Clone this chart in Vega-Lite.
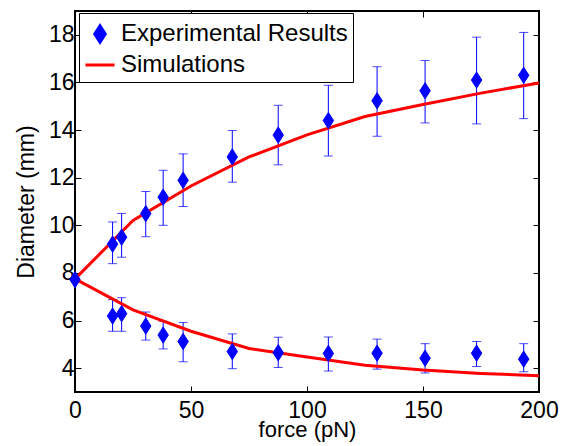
{
  "$schema": "https://vega.github.io/schema/vega-lite/v6.json",
  "width": 464,
  "height": 381,
  "autosize": "none",
  "padding": {"left": 75, "top": 11, "right": 27, "bottom": 54},
  "background": "#ffffff",
  "config": {
    "font": "Liberation Sans",
    "view": {"stroke": "#000000", "strokeWidth": 2},
    "axis": {
      "grid": false,
      "domain": false,
      "labelFlush": false,
      "labelFont": "Liberation Sans",
      "titleFont": "Liberation Sans",
      "labelFontSize": 23,
      "titleFontSize": 23,
      "titleFontWeight": "normal",
      "labelColor": "#000000",
      "titleColor": "#000000",
      "tickColor": "#000000",
      "tickWidth": 1,
      "tickSize": -6
    },
    "legend": {
      "title": null,
      "orient": "none",
      "legendX": 4,
      "legendY": 2,
      "strokeColor": "#000000",
      "fillColor": "#ffffff",
      "padding": 5,
      "labelFont": "Liberation Sans",
      "labelFontSize": 24,
      "labelColor": "#000000",
      "labelOffset": 5,
      "rowPadding": -3,
      "symbolSize": 841,
      "symbolStrokeWidth": 3,
      "labelLimit": 400
    }
  },
  "datasets": {
    "exp": [
      {"force": 0, "diam": 7.72, "series": "Experimental Results"},
      {"force": 16.2, "diam": 9.21, "lo": 8.39, "hi": 10.14, "series": "Experimental Results"},
      {"force": 20.1, "diam": 9.5, "lo": 8.66, "hi": 10.5, "series": "Experimental Results"},
      {"force": 30.5, "diam": 10.49, "lo": 9.52, "hi": 11.42, "series": "Experimental Results"},
      {"force": 38, "diam": 11.18, "lo": 10.0, "hi": 12.31, "series": "Experimental Results"},
      {"force": 46.6, "diam": 11.89, "lo": 10.79, "hi": 13.0, "series": "Experimental Results"},
      {"force": 67.8, "diam": 12.87, "lo": 11.81, "hi": 13.98, "series": "Experimental Results"},
      {"force": 87.6, "diam": 13.79, "lo": 12.54, "hi": 15.04, "series": "Experimental Results"},
      {"force": 109.2, "diam": 14.4, "lo": 12.91, "hi": 15.88, "series": "Experimental Results"},
      {"force": 130.2, "diam": 15.23, "lo": 13.74, "hi": 16.66, "series": "Experimental Results"},
      {"force": 150.9, "diam": 15.65, "lo": 14.3, "hi": 16.92, "series": "Experimental Results"},
      {"force": 173.1, "diam": 16.1, "lo": 14.26, "hi": 17.9, "series": "Experimental Results"},
      {"force": 193.4, "diam": 16.3, "lo": 14.48, "hi": 18.1, "series": "Experimental Results"},
      {"force": 16.2, "diam": 6.19, "lo": 5.55, "hi": 6.88, "series": "Experimental Results"},
      {"force": 20.1, "diam": 6.29, "lo": 5.55, "hi": 6.96, "series": "Experimental Results"},
      {"force": 30.5, "diam": 5.77, "lo": 5.18, "hi": 6.36, "series": "Experimental Results"},
      {"force": 38, "diam": 5.39, "lo": 4.81, "hi": 5.97, "series": "Experimental Results"},
      {"force": 46.6, "diam": 5.12, "lo": 4.27, "hi": 5.92, "series": "Experimental Results"},
      {"force": 67.8, "diam": 4.7, "lo": 3.98, "hi": 5.44, "series": "Experimental Results"},
      {"force": 87.6, "diam": 4.65, "lo": 4.03, "hi": 5.3, "series": "Experimental Results"},
      {"force": 109.2, "diam": 4.62, "lo": 3.88, "hi": 5.31, "series": "Experimental Results"},
      {"force": 130.2, "diam": 4.63, "lo": 3.96, "hi": 5.22, "series": "Experimental Results"},
      {"force": 150.9, "diam": 4.42, "lo": 3.8, "hi": 5.03, "series": "Experimental Results"},
      {"force": 173.1, "diam": 4.63, "lo": 4.07, "hi": 5.12, "series": "Experimental Results"},
      {"force": 193.4, "diam": 4.38, "lo": 3.85, "hi": 5.03, "series": "Experimental Results"}
    ],
    "sim": [
      {"force": 0, "diam": 7.75, "branch": "upper", "series": "Simulations"},
      {"force": 25, "diam": 10.2, "branch": "upper", "series": "Simulations"},
      {"force": 50, "diam": 11.65, "branch": "upper", "series": "Simulations"},
      {"force": 75, "diam": 12.87, "branch": "upper", "series": "Simulations"},
      {"force": 100, "diam": 13.8, "branch": "upper", "series": "Simulations"},
      {"force": 125, "diam": 14.57, "branch": "upper", "series": "Simulations"},
      {"force": 150, "diam": 15.07, "branch": "upper", "series": "Simulations"},
      {"force": 175, "diam": 15.55, "branch": "upper", "series": "Simulations"},
      {"force": 200, "diam": 15.98, "branch": "upper", "series": "Simulations"},
      {"force": 0, "diam": 7.75, "branch": "lower", "series": "Simulations"},
      {"force": 25, "diam": 6.45, "branch": "lower", "series": "Simulations"},
      {"force": 50, "diam": 5.55, "branch": "lower", "series": "Simulations"},
      {"force": 75, "diam": 4.83, "branch": "lower", "series": "Simulations"},
      {"force": 100, "diam": 4.47, "branch": "lower", "series": "Simulations"},
      {"force": 125, "diam": 4.12, "branch": "lower", "series": "Simulations"},
      {"force": 150, "diam": 3.92, "branch": "lower", "series": "Simulations"},
      {"force": 175, "diam": 3.78, "branch": "lower", "series": "Simulations"},
      {"force": 200, "diam": 3.68, "branch": "lower", "series": "Simulations"}
    ]
  },
  "layer": [
    {
      "data": {"name": "exp"},
      "transform": [{"filter": "isValid(datum.lo)"}],
      "mark": {"type": "rule", "color": "#0000ff", "strokeWidth": 1},
      "encoding": {
        "x": {"field": "force", "type": "quantitative", "scale": {"domain": [0, 200], "nice": false, "zero": false},
              "axis": {"values": [0, 50, 100, 150, 200], "title": "force (pN)", "labelPadding": 13, "titlePadding": -3, "titleFontSize": 22}},
        "y": {"field": "lo", "type": "quantitative", "scale": {"domain": [3, 19], "nice": false, "zero": false},
              "axis": {"values": [4, 6, 8, 10, 12, 14, 16, 18], "title": "Diameter (mm)", "labelPadding": 7, "titlePadding": 10}},
        "y2": {"field": "hi"}
      }
    },
    {
      "data": {"name": "exp"},
      "transform": [{"filter": "isValid(datum.lo)"}],
      "mark": {"type": "tick", "orient": "horizontal", "thickness": 1, "size": 9, "color": "#0000ff"},
      "encoding": {
        "x": {"field": "force", "type": "quantitative",
              "axis": {"orient": "top", "values": [0, 50, 100, 150, 200], "labels": false, "title": null}},
        "y": {"field": "lo", "type": "quantitative",
              "axis": {"orient": "right", "values": [4, 6, 8, 10, 12, 14, 16, 18], "labels": false, "title": null}}
      }
    },
    {
      "data": {"name": "exp"},
      "transform": [{"filter": "isValid(datum.hi)"}],
      "mark": {"type": "tick", "orient": "horizontal", "thickness": 1, "size": 9, "color": "#0000ff"},
      "encoding": {
        "x": {"field": "force", "type": "quantitative", "axis": null},
        "y": {"field": "hi", "type": "quantitative", "axis": null}
      }
    },
    {
      "data": {"name": "sim"},
      "mark": {"type": "line", "strokeWidth": 3},
      "encoding": {
        "x": {"field": "force", "type": "quantitative", "axis": null},
        "y": {"field": "diam", "type": "quantitative", "axis": null},
        "detail": {"field": "branch"},
        "stroke": {"field": "series", "type": "nominal",
                   "scale": {"domain": ["Experimental Results", "Simulations"], "range": ["#0000ff", "#ff0000"]}}
      }
    },
    {
      "data": {"name": "exp"},
      "mark": {"type": "point", "filled": true, "size": 841, "strokeWidth": 1, "opacity": 1},
      "encoding": {
        "x": {"field": "force", "type": "quantitative", "axis": null},
        "y": {"field": "diam", "type": "quantitative", "axis": null},
        "fill": {"field": "series", "type": "nominal",
                 "scale": {"domain": ["Experimental Results", "Simulations"], "range": ["#0000ff", "#ff0000"]}},
        "stroke": {"field": "series", "type": "nominal"},
        "shape": {"field": "series", "type": "nominal",
                  "scale": {"domain": ["Experimental Results", "Simulations"],
                            "range": ["M0,-0.56L0.36,0L0,0.56L-0.36,0Z", "M-1,0L1,0"]}}
      }
    }
  ],
  "resolve": {"axis": {"x": "independent", "y": "independent"}}
}
